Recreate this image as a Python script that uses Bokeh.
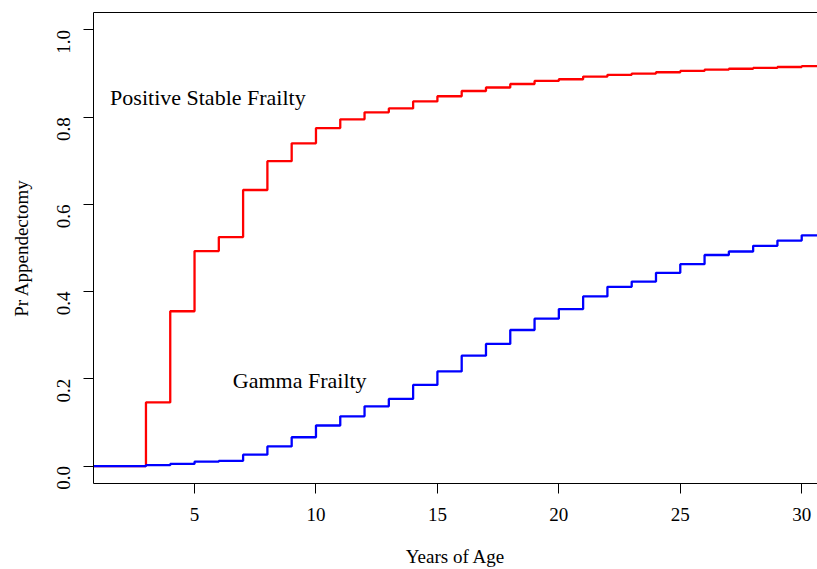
import math
from bokeh.plotting import figure
from bokeh.models import Range1d, FixedTicker, LinearAxis, PrintfTickFormatter
from bokeh.core.properties import value
from bokeh.embed import file_html
from bokeh.resources import INLINE

# Data: cumulative probability of appendectomy by age (step functions)
ages = list(range(0, 32))
positive_stable = [0.0, 0.0, 0.0, 0.146, 0.355, 0.493, 0.525, 0.633, 0.699, 0.740,
                   0.775, 0.795, 0.811, 0.820, 0.836, 0.848, 0.860, 0.868, 0.876, 0.883,
                   0.887, 0.893, 0.897, 0.900, 0.903, 0.906, 0.909, 0.911, 0.913, 0.915,
                   0.917, 0.917]
gamma = [0.0, 0.0, 0.0, 0.002, 0.005, 0.010, 0.012, 0.026, 0.045, 0.066,
         0.093, 0.114, 0.137, 0.154, 0.186, 0.217, 0.253, 0.280, 0.312, 0.338,
         0.360, 0.389, 0.411, 0.423, 0.443, 0.463, 0.484, 0.492, 0.505, 0.517,
         0.529, 0.529]
x_ticks = [5, 10, 15, 20, 25, 30]
y_ticks = [0.0, 0.2, 0.4, 0.6, 0.8, 1.0]

FONT = "Liberation Serif"

p = figure(width=817, height=569, output_backend="svg", toolbar_location=None,
           x_range=Range1d(0.84, 30.65), y_range=Range1d(-0.04, 1.04),
           min_border_left=93, min_border_right=0, min_border_top=12,
           min_border_bottom=85, background_fill_color="white",
           border_fill_color="white")
p.outline_line_color = None
p.xgrid.visible = False
p.ygrid.visible = False

p.step(ages, positive_stable, mode="after", line_color="#FF0000", line_width=2.3)
p.step(ages, gamma, mode="after", line_color="#0000FF", line_width=2.3)

p.text(x=[5.55], y=[0.845], text=["Positive Stable Frailty"], text_align="center",
       text_baseline="middle", text_font=value(FONT), text_font_size="22px",
       text_color="black")
p.text(x=[9.33], y=[0.196], text=["Gamma Frailty"], text_align="center",
       text_baseline="middle", text_font=value(FONT), text_font_size="22px",
       text_color="black")

for ax in (p.xaxis[0], p.yaxis[0]):
    ax.major_tick_out = 10
    ax.major_tick_in = 0
    ax.minor_tick_line_color = None
    ax.axis_line_color = "black"
    ax.major_tick_line_color = "black"
    ax.major_label_text_font = FONT
    ax.major_label_text_font_size = "19px"
    ax.major_label_text_color = "black"
    ax.axis_label_text_font = FONT
    ax.axis_label_text_font_size = "19px"
    ax.axis_label_text_font_style = "normal"
    ax.axis_label_text_color = "black"

p.xaxis[0].ticker = FixedTicker(ticks=x_ticks)
p.xaxis[0].axis_label = "Years of Age"
p.xaxis[0].major_label_standoff = 14
p.xaxis[0].axis_label_standoff = 22

p.yaxis[0].ticker = FixedTicker(ticks=y_ticks)
p.yaxis[0].formatter = PrintfTickFormatter(format="%.1f")
p.yaxis[0].major_label_orientation = math.pi / 2
p.yaxis[0].axis_label = "Pr Appendectomy"
p.yaxis[0].major_label_standoff = 20
p.yaxis[0].axis_label_standoff = 16

top = LinearAxis(ticker=FixedTicker(ticks=[]), major_label_text_font_size="0px",
                 major_tick_line_color=None, minor_tick_line_color=None,
                 axis_line_color="black")
p.add_layout(top, "above")

open("out.html", "w").write(file_html(p, INLINE))
